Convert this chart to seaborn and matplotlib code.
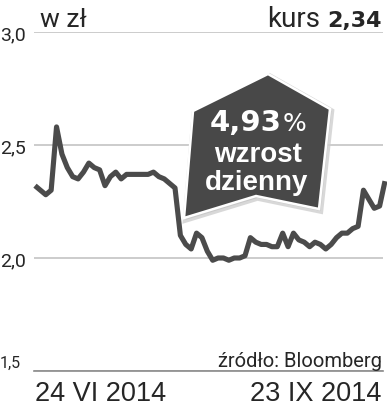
import matplotlib
matplotlib.use("Agg")
import matplotlib.pyplot as plt
import matplotlib.transforms as mtransforms
from matplotlib.patches import Polygon
import seaborn as sns
import pandas as pd

# ---- data ----
kurs = [2.32, 2.30, 2.28, 2.30, 2.58, 2.46, 2.40, 2.36, 2.35, 2.38, 2.42, 2.40,
        2.39, 2.32, 2.36, 2.38, 2.35, 2.37, 2.37, 2.37, 2.37, 2.37, 2.38, 2.36,
        2.35, 2.33, 2.31, 2.10, 2.06, 2.04, 2.11, 2.09, 2.03, 1.99, 2.00, 2.00,
        1.99, 2.00, 2.00, 2.01, 2.09, 2.07, 2.06, 2.06, 2.05, 2.05, 2.11, 2.05,
        2.11, 2.08, 2.07, 2.05, 2.07, 2.06, 2.04, 2.06, 2.09, 2.11, 2.11, 2.13,
        2.14, 2.30, 2.26, 2.22, 2.23, 2.34]
dni = list(range(len(kurs)))
y_ticks = [1.5, 2.0, 2.5, 3.0]
y_tick_labels = ["1,5", "2,0", "2,5", "3,0"]
x_labels = ["24 VI 2014", "23 IX 2014"]
unit_label = "w zł"
kurs_label = "kurs"
kurs_value = "2,34"
change_value = "4,93"
change_text = ["wzrost", "dzienny"]
source = "źródło: Bloomberg"

df = pd.DataFrame({"dzien": dni, "kurs": kurs})

sns.set_style("white")
W, H = 387, 406
fig = plt.figure(figsize=(W / 100, H / 100), dpi=100)


def fx(px):
    return px / W


def fy(py):
    return 1 - py / H


ax = fig.add_axes([fx(34), fy(372), 349 / W, 339 / H])
LINE = "#4b4b4b"
TXT = "#262626"
REG = dict(family=["Roboto", "DejaVu Sans"])

sns.lineplot(data=df, x="dzien", y="kurs", ax=ax, color=LINE, lw=3.7,
             solid_joinstyle="round", solid_capstyle="butt", clip_on=False, zorder=3)

R = (len(kurs) - 1) * 349 / 350
ax.set_xlim(-R / 349, -R / 349 + R)
ax.set_ylim(1.5, 3.0)
ax.set_yticks(y_ticks)
ax.set_xticks([])
ax.set_yticklabels([])
ax.tick_params(left=False, bottom=False)
ax.set_xlabel("")
ax.set_ylabel("")
for s in ["top", "right", "left"]:
    ax.spines[s].set_visible(False)
ax.spines["bottom"].set_color("#8a8a8a")
ax.spines["bottom"].set_linewidth(1.2)
ax.grid(axis="y", color="#c4c4c4", lw=1.2)
ax.grid(axis="x", visible=False)
ax.set_facecolor("none")

# y labels
btr = mtransforms.blended_transform_factory(fig.transFigure, ax.transData)
for v, lab in zip(y_ticks, y_tick_labels):
    if v == 1.5:
        ax.text(fx(0), v + 0.004, lab, transform=btr, ha="left", va="bottom",
                fontsize=11.5, color=TXT, **REG)
    else:
        ax.text(fx(0), v - 0.012, lab, transform=btr, ha="left", va="center",
                fontsize=14, color=TXT, **REG)

# top texts
fig.text(fx(40), fy(27), unit_label, ha="left", va="baseline", fontsize=19,
         color=TXT, **REG)
fig.text(fx(382), fy(27), kurs_value, ha="right", va="baseline", fontsize=16,
         color=TXT, family="DejaVu Sans", weight="bold")
fig.text(fx(320), fy(27), kurs_label, ha="right", va="baseline", fontsize=20,
         color=TXT, **REG)

# bottom texts
fig.text(fx(382), fy(367), source, ha="right", va="baseline", fontsize=14.5,
         color=TXT, **REG)
fig.text(fx(35), fy(401), x_labels[0], ha="left", va="baseline", fontsize=19.5,
         color=TXT, family="Liberation Sans")
fig.text(fx(381), fy(401), x_labels[1], ha="right", va="baseline", fontsize=19.5,
         color=TXT, family="Liberation Sans")

# arrow badge
pts = [(268, 75), (330, 110), (319, 210), (256, 197), (184, 219), (193, 112)]
shadow = Polygon([(fx(x + 1.5), fy(y + 2)) for x, y in pts], closed=True,
                 transform=fig.transFigure, facecolor="#9a9a9a", edgecolor="#cfcfcf",
                 lw=4, alpha=0.8, zorder=5, joinstyle="miter")
badge = Polygon([(fx(x), fy(y)) for x, y in pts], closed=True,
                transform=fig.transFigure, facecolor="#484848", edgecolor="white",
                lw=1.8, zorder=6, joinstyle="miter")
fig.patches.extend([shadow, badge])

fig.text(fx(282), fy(123), change_value, ha="right", va="center", fontsize=21,
         color="white", family="DejaVu Sans", weight="bold", zorder=7)
fig.text(fx(283), fy(124), "%", ha="left", va="center", fontsize=18,
         color="white", family="DejaVu Sans", zorder=7)
fig.text(fx(258), fy(155), change_text[0], ha="center", va="center", fontsize=20,
         color="white", family="Liberation Sans", weight="bold", zorder=7)
fig.text(fx(257), fy(183), change_text[1], ha="center", va="center", fontsize=20,
         color="white", family="Liberation Sans", weight="bold", zorder=7)

fig.savefig("out.png", dpi=100)
